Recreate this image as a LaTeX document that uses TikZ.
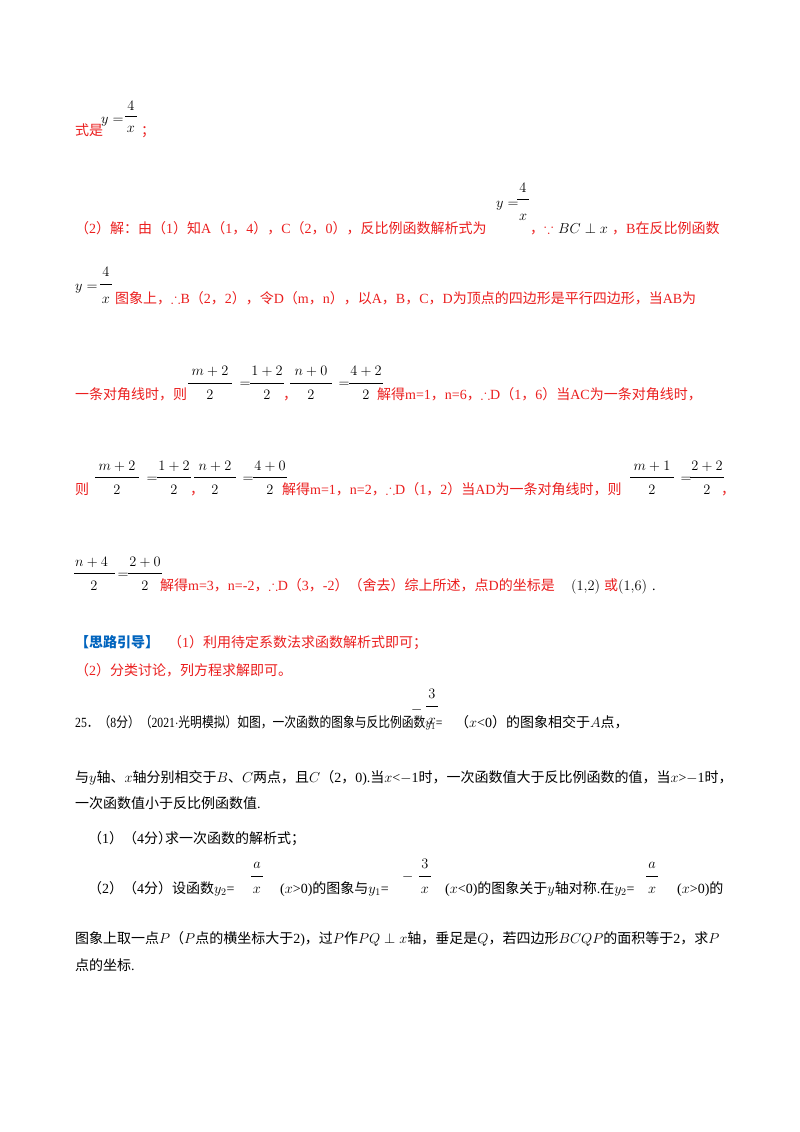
\documentclass[tikz,border=0pt]{standalone}
\usepackage{amssymb}
\usepackage{fontspec}
\setmainfont{Liberation Serif}
\newfontfamily\cjk{Noto Sans CJK SC}
\XeTeXinterchartokenstate=1
\newXeTeXintercharclass\cjkcls
\count255="3000
\loop \XeTeXcharclass\count255=\cjkcls \advance\count255 by 1 \ifnum\count255<"A000 \repeat
\count255="FF00
\loop \XeTeXcharclass\count255=\cjkcls \advance\count255 by 1 \ifnum\count255<"FFF0 \repeat
\XeTeXinterchartoks 0 \cjkcls = {\begingroup\cjk}
\XeTeXinterchartoks 4095 \cjkcls = {\begingroup\cjk}
\XeTeXinterchartoks \cjkcls 0 = {\endgroup}
\XeTeXinterchartoks \cjkcls 4095 = {\endgroup}
\definecolor{rd}{RGB}{235,30,30}
\definecolor{bl}{RGB}{0,100,190}
\tikzset{x=1pt,y=1pt,
 t/.style={anchor=base west,inner sep=0pt,font=\fontsize{14}{16}\selectfont},
 r/.style={t,text=rd}, k/.style={t,text=black}}
% \fr{cx}{numbase}{bar}{denbase}{halfw}{num}{den}
\newcommand\fr[7]{%
 \node[k,anchor=base] at (#1,-#2) {$#6$};
 \draw[line width=0.6pt] (#1-#5,-#3)--(#1+#5,-#3);
 \node[k,anchor=base] at (#1,-#4) {$#7$};}
\begin{document}
\begin{tikzpicture}
\useasboundingbox[fill=white] (0,0) rectangle (800,-1132);
% line 1
\node[r] (l1) at (75,-135) {式是};
\node[k] (l1y) at (101,-123) {$y=$};
\fr{131}{110}{116}{132}{6}{4}{x}
\node[r] (l1e) at (141,-135) {；};
% line 2
\node[r] (l2) at (75,-233) {（2）解：由（1）知A（1，4），C（2，0），反比例函数解析式为};
\node[k] at (496,-207) {$y=$};
\fr{523}{192}{199}{220}{6}{4}{x}
\node[r] at (530,-233) {，};
\node[r] at (544,-233) {$\because$};
\node[k] at (558,-233) {$BC\perp x$};
\node[r] at (612,-233) {，B在反比例函数};
% line 3
\node[k] at (75,-290) {$y=$};
\fr{106}{276}{284}{303}{6}{4}{x}
\node[r] at (115,-303) {图象上，$\therefore$B（2，2），令D（m，n），以A，B，C，D为顶点的四边形是平行四边形，当AB为};
% line 4
\node[r] at (75,-399) {一条对角线时，则};
\fr{210}{375}{383}{399}{22}{m+2}{2}
\node[k,anchor=base] at (245,-387) {$=$};
\fr{267}{375}{383}{399}{17}{1+2}{2}
\node[r] at (283,-399) {，};
\fr{311}{375}{383}{399}{21}{n+0}{2}
\node[k,anchor=base] at (344,-387) {$=$};
\fr{366}{375}{383}{399}{17}{4+2}{2}
\node[r] at (377,-399) {解得m=1，n=6，$\therefore$D（1，6）当AC为一条对角线时，};
% line 5
\node[r] at (75,-494) {则};
\fr{117}{470}{477}{494}{22}{m+2}{2}
\node[k,anchor=base] at (152,-482) {$=$};
\fr{174}{470}{477}{494}{17}{1+2}{2}
\node[r] at (190,-494) {，};
\fr{215}{470}{477}{494}{21}{n+2}{2}
\node[k,anchor=base] at (248,-482) {$=$};
\fr{270}{470}{477}{494}{17}{4+0}{2}
\node[r] at (282,-494) {解得m=1，n=2，$\therefore$D（1，2）当AD为一条对角线时，则};
\fr{652}{470}{477}{494}{22}{m+1}{2}
\node[k,anchor=base] at (686,-482) {$=$};
\fr{707}{470}{477}{494}{17}{2+2}{2}
\node[r] at (721,-494) {，};
% line 6
\node[k] at (75,-566) {$n+4$};
\draw[line width=0.6pt] (74,-573)--(115,-573);
\node[k,anchor=base] at (94,-590) {$2$};
\node[k,anchor=base] at (123,-578) {$=$};
\fr{145}{566}{573}{590}{17}{2+0}{2}
\node[r] at (160,-590) {解得m=3，n=-2，$\therefore$D（3，-2）（舍去）综上所述，点D的坐标是};
\node[k] at (571,-590) {$\bigl(1{,}2\bigr)$};
\node[r] at (604,-590) {或};
\node[k] at (618,-590) {$\bigl(1{,}6\bigr)$};
\node[k] at (652,-590) {.};
% line 7-8
\node[t,text=bl,font=\fontsize{14}{16}\selectfont\bfseries] at (75,-647) {【思路引导】};
\node[r] at (168,-647) {（1）利用待定系数法求函数解析式即可；};
\node[r] at (75,-675) {（2）分类讨论，列方程求解即可。};
% problem 25
\begin{scope}[shift={(75,-727)},xscale=0.84,transform shape]
\node[k] (p25) at (0,0) {25．（8分）（2021$\cdot$光明模拟）如图，一次函数的图象与反比例函数$y_1$=};
\end{scope}
\node[k] at (411,-713) {$-$};
\fr{432}{698}{706}{724}{6}{3}{x}
\node[k] at (455,-727) {（$x$<0）的图象相交于$A$点，};
\node[k] at (75,-782) {与$y$轴、$x$轴分别相交于$B$、$C$两点，且$C$（2，0).当$x$<$-$1时，一次函数值大于反比例函数的值，当$x$>$-$1时，};
\node[k] at (75,-808) {一次函数值小于反比例函数值.};
\node[k] at (88,-843) {（1）（4分）};
\node[k] at (165,-843) {求一次函数的解析式；};
\node[k] at (88,-893) {（2）（4分）设函数$y_2$=};
\fr{257}{868}{876}{893}{6}{a}{x}
\node[k] at (280,-893) {($x$>0)的图象与$y_1$=};
\node[k] at (402,-880) {$-$};
\fr{425}{868}{876}{893}{6}{3}{x}
\node[k] at (445,-893) {($x$<0)的图象关于$y$轴对称.在$y_2$=};
\fr{652}{868}{876}{893}{6}{a}{x}
\node[k] at (677,-893) {($x$>0)的};
\node[k] at (75,-943) {图象上取一点$P$（$P$点的横坐标大于2)，过$P$作$PQ\perp x$轴，垂足是$Q$，若四边形$BCQP$的面积等于2，求$P$};
\node[k] at (75,-970) {点的坐标.};
\end{tikzpicture}
\end{document}
